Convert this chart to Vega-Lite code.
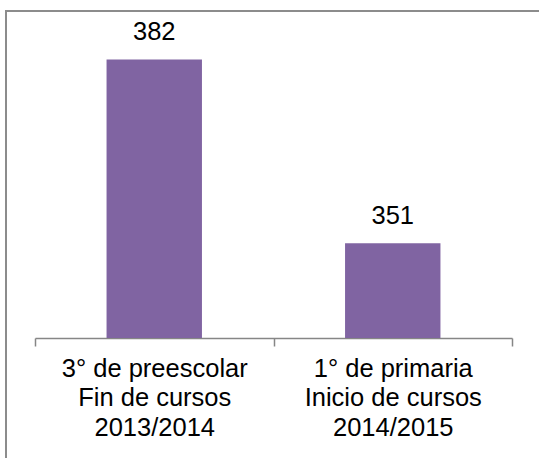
{
  "$schema": "https://vega.github.io/schema/vega-lite/v6.json",
  "autosize": {"type": "none"},
  "padding": {"left": 6, "top": 11, "right": 0, "bottom": 0},
  "width": 540,
  "height": 460,
  "background": "white",
  "config": {
    "view": {"stroke": "#8c8c8c", "strokeWidth": 2},
    "font": "Liberation Sans"
  },
  "data": {
    "values": [
      {"grupo": "3° de preescolar|Fin de cursos|2013/2014", "alumnos": 382},
      {"grupo": "1° de primaria|Inicio de cursos|2014/2015", "alumnos": 351}
    ]
  },
  "encoding": {
    "x": {
      "field": "grupo",
      "type": "nominal",
      "sort": null,
      "scale": {"range": [29, 506], "paddingInner": 0, "paddingOuter": 0},
      "axis": {
        "title": null,
        "labelAngle": 0,
        "labelExpr": "split(datum.label, '|')",
        "labelFont": "Liberation Sans",
        "labelFontSize": 25.5,
        "labelLineHeight": 29.5,
        "labelColor": "#000000",
        "labelBaseline": "top",
        "labelLimit": 0,
        "labelPadding": 10,
        "domainColor": "#868686",
        "domainWidth": 1.5,
        "ticks": true,
        "tickColor": "#868686",
        "tickWidth": 1.5,
        "tickSize": 8,
        "tickBand": "extent",
        "offset": -133
      }
    },
    "y": {
      "field": "alumnos",
      "type": "quantitative",
      "scale": {"domain": [335, 390], "range": [327, 1], "zero": false, "nice": false},
      "axis": null
    }
  },
  "layer": [
    {
      "mark": {"type": "bar", "color": "#8064A2", "width": {"band": 0.4}},
      "encoding": {"y2": {"datum": 335}}
    },
    {
      "mark": {"type": "text", "dy": -19, "baseline": "alphabetic", "fontSize": 25.5, "color": "#000000", "font": "Liberation Sans"},
      "encoding": {"text": {"field": "alumnos", "type": "quantitative"}}
    }
  ]
}
